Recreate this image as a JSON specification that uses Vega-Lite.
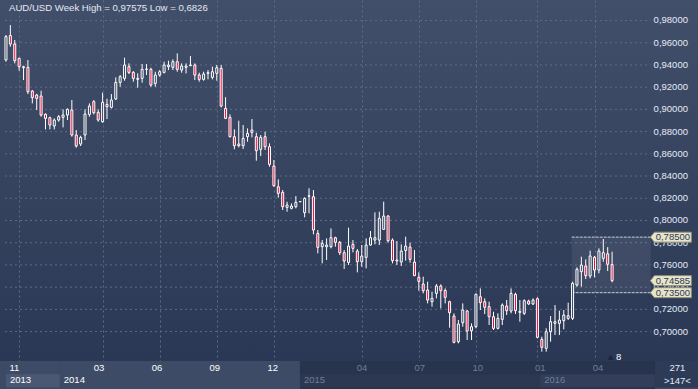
{
  "$schema": "https://vega.github.io/schema/vega-lite/v6.json",
  "background": "#2e3b57",
  "padding": 0,
  "spacing": 0,
  "bounds": "flush",
  "config": {"view": {"stroke": null}, "font": "Liberation Sans"},
  "datasets": {
    "candles": [
      {"i":0,"open":0.9445,"high":0.9669,"low":0.9429,"close":0.9655},
      {"i":1,"open":0.9665,"high":0.9759,"low":0.9564,"close":0.9588},
      {"i":2,"open":0.9588,"high":0.9624,"low":0.9414,"close":0.9438},
      {"i":3,"open":0.9459,"high":0.9465,"low":0.9348,"close":0.9384},
      {"i":4,"open":0.9375,"high":0.9393,"low":0.9264,"close":0.9384},
      {"i":5,"open":0.9378,"high":0.9444,"low":0.9138,"close":0.9159},
      {"i":6,"open":0.9165,"high":0.9174,"low":0.9054,"close":0.9105},
      {"i":7,"open":0.9129,"high":0.914,"low":0.8994,"close":0.9099},
      {"i":8,"open":0.912,"high":0.9168,"low":0.8934,"close":0.8949},
      {"i":9,"open":0.8956,"high":0.8964,"low":0.882,"close":0.8919},
      {"i":10,"open":0.8925,"high":0.8934,"low":0.882,"close":0.8859},
      {"i":11,"open":0.885,"high":0.8919,"low":0.882,"close":0.8904},
      {"i":12,"open":0.8904,"high":0.8949,"low":0.8889,"close":0.8934},
      {"i":13,"open":0.8928,"high":0.9,"low":0.8838,"close":0.8949},
      {"i":14,"open":0.8949,"high":0.9009,"low":0.8904,"close":0.9},
      {"i":15,"open":0.8994,"high":0.9084,"low":0.8754,"close":0.8769},
      {"i":16,"open":0.8769,"high":0.8814,"low":0.8655,"close":0.867},
      {"i":17,"open":0.8688,"high":0.8763,"low":0.867,"close":0.8748},
      {"i":18,"open":0.8769,"high":0.9,"low":0.8724,"close":0.8958},
      {"i":19,"open":0.8955,"high":0.9054,"low":0.8934,"close":0.903},
      {"i":20,"open":0.9069,"high":0.9084,"low":0.8955,"close":0.897},
      {"i":21,"open":0.8973,"high":0.9,"low":0.8889,"close":0.8904},
      {"i":22,"open":0.8889,"high":0.915,"low":0.888,"close":0.9063},
      {"i":23,"open":0.9045,"high":0.9096,"low":0.8913,"close":0.9024},
      {"i":24,"open":0.9018,"high":0.9138,"low":0.9009,"close":0.9084},
      {"i":25,"open":0.9093,"high":0.9288,"low":0.9084,"close":0.9243},
      {"i":26,"open":0.9243,"high":0.9309,"low":0.9204,"close":0.9294},
      {"i":27,"open":0.9279,"high":0.9465,"low":0.9258,"close":0.9399},
      {"i":28,"open":0.9384,"high":0.9414,"low":0.9318,"close":0.9333},
      {"i":29,"open":0.9333,"high":0.9345,"low":0.9249,"close":0.9279},
      {"i":30,"open":0.927,"high":0.9324,"low":0.9195,"close":0.9279},
      {"i":31,"open":0.9279,"high":0.9408,"low":0.924,"close":0.936},
      {"i":32,"open":0.936,"high":0.9408,"low":0.9309,"close":0.9363},
      {"i":33,"open":0.936,"high":0.9375,"low":0.9204,"close":0.9219},
      {"i":34,"open":0.9234,"high":0.9339,"low":0.9204,"close":0.9309},
      {"i":35,"open":0.9309,"high":0.9354,"low":0.9294,"close":0.9339},
      {"i":36,"open":0.9333,"high":0.9429,"low":0.9324,"close":0.9399},
      {"i":37,"open":0.9384,"high":0.9438,"low":0.9354,"close":0.9399},
      {"i":38,"open":0.9378,"high":0.945,"low":0.9354,"close":0.9429},
      {"i":39,"open":0.9429,"high":0.9504,"low":0.9339,"close":0.936},
      {"i":40,"open":0.9354,"high":0.9414,"low":0.933,"close":0.939},
      {"i":41,"open":0.9378,"high":0.9414,"low":0.9324,"close":0.939},
      {"i":42,"open":0.9393,"high":0.948,"low":0.939,"close":0.9399},
      {"i":43,"open":0.9399,"high":0.9414,"low":0.9264,"close":0.9309},
      {"i":44,"open":0.9309,"high":0.933,"low":0.9249,"close":0.927},
      {"i":45,"open":0.927,"high":0.9339,"low":0.9258,"close":0.9318},
      {"i":46,"open":0.9324,"high":0.9354,"low":0.927,"close":0.933},
      {"i":47,"open":0.9288,"high":0.9384,"low":0.927,"close":0.9339},
      {"i":48,"open":0.9324,"high":0.9399,"low":0.9258,"close":0.9375},
      {"i":49,"open":0.9369,"high":0.9399,"low":0.9018,"close":0.903},
      {"i":50,"open":0.9009,"high":0.911,"low":0.8913,"close":0.8919},
      {"i":51,"open":0.8928,"high":0.8955,"low":0.8748,"close":0.8754},
      {"i":52,"open":0.8754,"high":0.882,"low":0.864,"close":0.8673},
      {"i":53,"open":0.8673,"high":0.8898,"low":0.8658,"close":0.8688},
      {"i":54,"open":0.8673,"high":0.8859,"low":0.8643,"close":0.8739},
      {"i":55,"open":0.8754,"high":0.8829,"low":0.8709,"close":0.8784},
      {"i":56,"open":0.8814,"high":0.8913,"low":0.8748,"close":0.8793},
      {"i":57,"open":0.8754,"high":0.879,"low":0.8538,"close":0.8628},
      {"i":58,"open":0.864,"high":0.8769,"low":0.858,"close":0.8748},
      {"i":59,"open":0.8754,"high":0.8799,"low":0.8634,"close":0.8664},
      {"i":60,"open":0.8664,"high":0.8694,"low":0.8484,"close":0.8505},
      {"i":61,"open":0.849,"high":0.8544,"low":0.8304,"close":0.8313},
      {"i":62,"open":0.8304,"high":0.837,"low":0.8205,"close":0.8244},
      {"i":63,"open":0.8253,"high":0.8274,"low":0.8094,"close":0.8124},
      {"i":64,"open":0.8118,"high":0.8169,"low":0.8079,"close":0.8139},
      {"i":65,"open":0.8109,"high":0.8154,"low":0.81,"close":0.813},
      {"i":66,"open":0.8124,"high":0.822,"low":0.8109,"close":0.8163},
      {"i":67,"open":0.8169,"high":0.8172,"low":0.8166,"close":0.817},
      {"i":68,"open":0.807,"high":0.8208,"low":0.8028,"close":0.8199},
      {"i":69,"open":0.8222,"high":0.829,"low":0.8064,"close":0.8218},
      {"i":70,"open":0.8214,"high":0.8274,"low":0.7875,"close":0.7914},
      {"i":71,"open":0.7884,"high":0.7914,"low":0.7704,"close":0.7758},
      {"i":72,"open":0.7764,"high":0.7824,"low":0.7614,"close":0.7794},
      {"i":73,"open":0.7764,"high":0.7839,"low":0.7644,"close":0.7779},
      {"i":74,"open":0.7764,"high":0.7929,"low":0.7749,"close":0.7845},
      {"i":75,"open":0.7845,"high":0.7854,"low":0.7764,"close":0.7803},
      {"i":76,"open":0.7803,"high":0.7815,"low":0.7689,"close":0.771},
      {"i":77,"open":0.771,"high":0.7734,"low":0.7563,"close":0.7635},
      {"i":78,"open":0.7623,"high":0.7935,"low":0.7599,"close":0.777},
      {"i":79,"open":0.7785,"high":0.7824,"low":0.7713,"close":0.7749},
      {"i":80,"open":0.7725,"high":0.7743,"low":0.7533,"close":0.7629},
      {"i":81,"open":0.7629,"high":0.7779,"low":0.7584,"close":0.768},
      {"i":82,"open":0.7668,"high":0.7839,"low":0.7569,"close":0.7779},
      {"i":83,"open":0.7779,"high":0.7905,"low":0.7773,"close":0.7845},
      {"i":84,"open":0.7824,"high":0.8073,"low":0.7785,"close":0.7845},
      {"i":85,"open":0.7824,"high":0.8079,"low":0.7779,"close":0.802},
      {"i":86,"open":0.792,"high":0.8169,"low":0.7914,"close":0.804},
      {"i":87,"open":0.804,"high":0.8049,"low":0.78,"close":0.7818},
      {"i":88,"open":0.7824,"high":0.7839,"low":0.7614,"close":0.7638},
      {"i":89,"open":0.7636,"high":0.7815,"low":0.7599,"close":0.7644},
      {"i":90,"open":0.7626,"high":0.7785,"low":0.759,"close":0.7725},
      {"i":91,"open":0.773,"high":0.7854,"low":0.7638,"close":0.777},
      {"i":92,"open":0.776,"high":0.78,"low":0.762,"close":0.765},
      {"i":93,"open":0.7626,"high":0.7734,"low":0.75,"close":0.7503},
      {"i":94,"open":0.7488,"high":0.7533,"low":0.7368,"close":0.7452},
      {"i":95,"open":0.7428,"high":0.7494,"low":0.7344,"close":0.7368},
      {"i":96,"open":0.7374,"high":0.7449,"low":0.7254,"close":0.7284},
      {"i":97,"open":0.7269,"high":0.7359,"low":0.7224,"close":0.7299},
      {"i":98,"open":0.7344,"high":0.7428,"low":0.7299,"close":0.741},
      {"i":99,"open":0.741,"high":0.7425,"low":0.7209,"close":0.7368},
      {"i":100,"open":0.737,"high":0.7389,"low":0.7254,"close":0.7308},
      {"i":101,"open":0.7269,"high":0.7278,"low":0.7035,"close":0.717},
      {"i":102,"open":0.714,"high":0.7164,"low":0.6894,"close":0.6903},
      {"i":103,"open":0.6909,"high":0.7104,"low":0.6894,"close":0.7068},
      {"i":104,"open":0.708,"high":0.7254,"low":0.7044,"close":0.7194},
      {"i":105,"open":0.7185,"high":0.7194,"low":0.6924,"close":0.7005},
      {"i":106,"open":0.7008,"high":0.7074,"low":0.6924,"close":0.7044},
      {"i":107,"open":0.7044,"high":0.7344,"low":0.7029,"close":0.7335},
      {"i":108,"open":0.7314,"high":0.7389,"low":0.7194,"close":0.726},
      {"i":109,"open":0.7269,"high":0.7299,"low":0.7158,"close":0.7218},
      {"i":110,"open":0.7224,"high":0.7269,"low":0.7059,"close":0.7134},
      {"i":111,"open":0.7134,"high":0.7179,"low":0.7014,"close":0.7029},
      {"i":112,"open":0.7029,"high":0.7164,"low":0.702,"close":0.7119},
      {"i":113,"open":0.711,"high":0.7254,"low":0.7059,"close":0.7239},
      {"i":114,"open":0.723,"high":0.7284,"low":0.7149,"close":0.7188},
      {"i":115,"open":0.7185,"high":0.7389,"low":0.7164,"close":0.7344},
      {"i":116,"open":0.7335,"high":0.735,"low":0.7158,"close":0.7188},
      {"i":117,"open":0.7182,"high":0.7284,"low":0.7089,"close":0.7173},
      {"i":118,"open":0.7164,"high":0.729,"low":0.7149,"close":0.7278},
      {"i":119,"open":0.7275,"high":0.7287,"low":0.724,"close":0.7248},
      {"i":120,"open":0.7248,"high":0.7299,"low":0.7239,"close":0.7284},
      {"i":121,"open":0.7296,"high":0.7308,"low":0.6939,"close":0.6948},
      {"i":122,"open":0.693,"high":0.6954,"low":0.6819,"close":0.6858},
      {"i":123,"open":0.6849,"high":0.7029,"low":0.6819,"close":0.6999},
      {"i":124,"open":0.6999,"high":0.714,"low":0.6909,"close":0.7089},
      {"i":125,"open":0.7074,"high":0.7239,"low":0.6969,"close":0.7089},
      {"i":126,"open":0.7074,"high":0.7188,"low":0.6969,"close":0.7104},
      {"i":127,"open":0.7098,"high":0.7194,"low":0.702,"close":0.7149},
      {"i":128,"open":0.7119,"high":0.726,"low":0.7104,"close":0.7143},
      {"i":129,"open":0.7119,"high":0.7449,"low":0.7104,"close":0.7434},
      {"i":130,"open":0.7419,"high":0.7578,"low":0.7404,"close":0.756},
      {"i":131,"open":0.7539,"high":0.7674,"low":0.7404,"close":0.7599},
      {"i":132,"open":0.759,"high":0.765,"low":0.7473,"close":0.7503},
      {"i":133,"open":0.75,"high":0.7728,"low":0.7479,"close":0.768},
      {"i":134,"open":0.7668,"high":0.768,"low":0.7488,"close":0.7554},
      {"i":135,"open":0.7554,"high":0.7749,"low":0.7524,"close":0.7725},
      {"i":136,"open":0.7659,"high":0.7833,"low":0.7629,"close":0.771},
      {"i":137,"open":0.77,"high":0.776,"low":0.7545,"close":0.7606},
      {"i":138,"open":0.7603,"high":0.7719,"low":0.7443,"close":0.7459}
    ],
    "levels": [
      {"level":0.70,"label":"0,70000"},{"level":0.72,"label":"0,72000"},{"level":0.74,"label":"0,74000"},
      {"level":0.76,"label":"0,76000"},{"level":0.78,"label":"0,78000"},{"level":0.80,"label":"0,80000"},
      {"level":0.82,"label":"0,82000"},{"level":0.84,"label":"0,84000"},{"level":0.86,"label":"0,86000"},
      {"level":0.88,"label":"0,88000"},{"level":0.90,"label":"0,90000"},{"level":0.92,"label":"0,92000"},
      {"level":0.94,"label":"0,94000"},{"level":0.96,"label":"0,96000"},{"level":0.98,"label":"0,98000"}
    ],
    "markers": [
      {"level":0.785,"label":"0,78500"},
      {"level":0.74585,"label":"0,74585"},
      {"level":0.735,"label":"0,73500"}
    ],
    "zone": [{"from":128.8,"hi":0.785,"lo":0.735}],
    "months": [
      {"i":3,"month":"11","year":2013},
      {"i":22,"month":"03","year":2014},
      {"i":35,"month":"06","year":2014},
      {"i":48,"month":"09","year":2014},
      {"i":61,"month":"12","year":2014},
      {"i":81,"month":"04","year":2015},
      {"i":94,"month":"07","year":2015},
      {"i":107,"month":"10","year":2015},
      {"i":121,"month":"01","year":2016},
      {"i":134,"month":"04","year":2016}
    ],
    "years": [
      {"year":2013,"from":1.1,"to":13.2},
      {"year":2014,"from":13.2,"to":67.1},
      {"year":2015,"from":67.1,"to":121},
      {"year":2016,"from":121,"to":146.77}
    ]
  },
  "vconcat": [
    {
      "width": 698,
      "height": 361,
      "view": {"stroke": null, "fill": {"gradient": "linear", "x1": 0, "y1": 0, "x2": 0, "y2": 1, "stops": [{"offset": 0, "color": "#424f6a"}, {"offset": 1, "color": "#2b3855"}]}},
      "layer": [
        {
          "data": {"name": "levels"},
          "mark": {"type": "rule", "color": "#5d6b87", "strokeDash": [2, 3], "strokeWidth": 1},
          "encoding": {
            "y": {"field": "level", "type": "quantitative", "axis": null, "scale": {"domain": [0.67352, 0.99845], "nice": false, "zero": false}},
            "x": {"datum": -0.22},
            "x2": {"datum": 146.77}
          }
        },
        {
          "data": {"name": "levels"},
          "mark": {"type": "text", "align": "left", "baseline": "middle", "dx": 3, "font": "Liberation Sans", "fontSize": 9.5, "color": "#e4ebf6"},
          "encoding": {
            "y": {"field": "level", "type": "quantitative", "axis": null},
            "x": {"datum": 146.77},
            "text": {"field": "label"}
          }
        },
        {
          "data": {"name": "zone"},
          "mark": {"type": "rect", "color": "#ffffff", "opacity": 0.07},
          "encoding": {
            "x": {"field": "from", "type": "quantitative", "title": null},
            "x2": {"datum": 146.77},
            "y": {"field": "hi", "type": "quantitative", "axis": null},
            "y2": {"field": "lo"}
          }
        },
        {
          "data": {"name": "zone"},
          "mark": {"type": "rule", "color": "#c9d1dd", "strokeDash": [3, 1], "strokeWidth": 1},
          "encoding": {
            "x": {"field": "from", "type": "quantitative", "title": null},
            "x2": {"datum": 146.77},
            "y": {"field": "hi", "type": "quantitative", "axis": null}
          }
        },
        {
          "data": {"name": "zone"},
          "mark": {"type": "rule", "color": "#c9d1dd", "strokeDash": [3, 1], "strokeWidth": 1},
          "encoding": {
            "x": {"field": "from", "type": "quantitative", "title": null},
            "x2": {"datum": 146.77},
            "y": {"field": "lo", "type": "quantitative", "axis": null}
          }
        },
        {
          "data": {"name": "candles"},
          "mark": {"type": "rule", "color": "#ffffff", "strokeWidth": 1},
          "encoding": {
            "x": {
              "field": "i", "type": "quantitative", "title": null,
              "scale": {"domain": [-0.22, 156.42], "nice": false, "zero": false},
              "axis": {"values": [3, 22, 35, 48, 61, 81, 94, 107, 121, 134], "grid": true, "gridColor": "#5d6b87", "gridDash": [2, 3], "labels": false, "ticks": false, "domain": true, "domainColor": "#000000", "domainWidth": 1, "title": null, "zindex": 0}
            },
            "y": {"field": "low", "type": "quantitative", "axis": null},
            "y2": {"field": "high"}
          }
        },
        {
          "data": {"name": "candles"},
          "mark": {"type": "bar", "size": 2, "stroke": "#ffffff", "strokeWidth": 1},
          "encoding": {
            "x": {"field": "i", "type": "quantitative", "title": null},
            "y": {"field": "open", "type": "quantitative", "axis": null},
            "y2": {"field": "close"},
            "color": {"condition": {"test": "datum.close < datum.open", "value": "#e60d3c"}, "value": "#37445f"}
          }
        },
        {
          "mark": {"type": "rule", "color": "#000000", "strokeWidth": 1},
          "encoding": {"x": {"datum": 146.77}}
        },
        {
          "data": {"name": "markers"},
          "mark": {"type": "point", "shape": "M-1,0L-0.805,-0.244L1,-0.244L1,0.244L-0.805,0.244Z", "size": 1681, "filled": true, "fill": "#e8e5c9", "stroke": "#8d8c7c", "strokeWidth": 1, "opacity": 1},
          "encoding": {
            "x": {"datum": 151.38},
            "y": {"field": "level", "type": "quantitative", "axis": null}
          }
        },
        {
          "data": {"name": "markers"},
          "mark": {"type": "text", "align": "center", "baseline": "middle", "dx": 2, "font": "Liberation Sans", "fontSize": 9.5, "color": "#2c3856"},
          "encoding": {
            "x": {"datum": 151.38},
            "y": {"field": "level", "type": "quantitative", "axis": null},
            "text": {"field": "label"}
          }
        },
        {
          "data": {"values": [{"caption": "AUD/USD Week High = 0,97575 Low = 0,6826"}]},
          "mark": {"type": "text", "align": "left", "baseline": "middle", "dx": 4, "font": "Liberation Sans", "fontSize": 9.6, "color": "#e2e9f4"},
          "encoding": {
            "x": {"datum": -0.22},
            "y": {"datum": 0.9913},
            "text": {"field": "caption"}
          }
        },
        {
          "data": {"values": [{"shift": "8"}]},
          "mark": {"type": "text", "align": "left", "baseline": "middle", "font": "Liberation Sans", "fontSize": 9.5, "color": "#ffffff"},
          "encoding": {
            "x": {"datum": 138.9},
            "y": {"datum": 0.6775},
            "text": {"field": "shift"}
          }
        },
        {
          "data": {"values": [{"arrow": "▲"}]},
          "mark": {"type": "text", "align": "center", "baseline": "middle", "font": "DejaVu Sans", "fontSize": 7, "color": "#1c2438"},
          "encoding": {
            "x": {"datum": 137.7},
            "y": {"datum": 0.6772},
            "text": {"field": "arrow"}
          }
        }
      ]
    },
    {
      "width": 698,
      "height": 28,
      "view": {"stroke": null, "fill": "#3d4a65"},
      "layer": [
        {
          "data": {"name": "years"},
          "mark": {"type": "rect"},
          "encoding": {
            "x": {"field": "from", "type": "quantitative", "axis": null, "scale": {"domain": [-0.22, 156.42], "nice": false, "zero": false}},
            "x2": {"field": "to"},
            "y": {"datum": 2, "scale": {"domain": [0, 2], "nice": false, "zero": false}, "axis": null},
            "y2": {"datum": 0},
            "color": {"condition": {"test": "datum.year >= 2015", "value": "#28334d"}, "value": "#3e4b66"}
          }
        },
        {
          "data": {"name": "years"},
          "mark": {"type": "rect"},
          "encoding": {
            "x": {"field": "from", "type": "quantitative", "axis": null},
            "x2": {"field": "to"},
            "y": {"datum": 1.05, "axis": null},
            "y2": {"datum": 0.12},
            "color": {"condition": [{"test": "datum.year == 2013", "value": "#4b5874"}, {"test": "datum.year == 2016", "value": "#323e5a"}, {"test": "datum.year == 2015", "value": "#2c3752"}], "value": "#3e4b66"}
          }
        },
        {
          "data": {"name": "months"},
          "mark": {"type": "text", "align": "center", "baseline": "middle", "font": "Liberation Sans", "fontSize": 9.5},
          "encoding": {
            "x": {"field": "i", "type": "quantitative", "axis": null},
            "y": {"datum": 1.48, "axis": null},
            "text": {"field": "month"},
            "color": {"condition": {"test": "datum.year >= 2015", "value": "#6f7e99"}, "value": "#ffffff"}
          }
        },
        {
          "data": {"name": "years"},
          "mark": {"type": "text", "align": "left", "baseline": "middle", "dx": 4, "font": "Liberation Sans", "fontSize": 9.5},
          "encoding": {
            "x": {"field": "from", "type": "quantitative", "axis": null},
            "y": {"datum": 0.62, "axis": null},
            "text": {"field": "year", "type": "nominal"},
            "color": {"condition": {"test": "datum.year >= 2015", "value": "#6f7e99"}, "value": "#ffffff"}
          }
        },
        {
          "data": {"values": [{"label": "271", "row": 1.5}, {"label": ">147<", "row": 0.6}]},
          "mark": {"type": "rect", "color": "#2e3b57"},
          "encoding": {
            "x": {"datum": 146.77, "axis": null},
            "x2": {"datum": 156.42},
            "y": {"datum": 2, "axis": null},
            "y2": {"datum": 0.12}
          }
        },
        {
          "data": {"values": [{"label": "271", "row": 1.5}, {"label": ">147<", "row": 0.6}]},
          "mark": {"type": "text", "align": "center", "baseline": "middle", "font": "Liberation Sans", "fontSize": 9.5, "color": "#e2e9f4"},
          "encoding": {
            "x": {"datum": 151.8, "axis": null},
            "y": {"field": "row", "type": "quantitative", "axis": null},
            "text": {"field": "label"}
          }
        },
        {
          "mark": {"type": "rule", "color": "#5a6580", "strokeWidth": 1},
          "encoding": {
            "x": {"datum": 149.6, "axis": null},
            "x2": {"datum": 154.1},
            "y": {"datum": 1.1, "axis": null}
          }
        },
        {
          "mark": {"type": "rule", "color": "#000000", "strokeWidth": 1},
          "encoding": {"x": {"datum": 146.77, "axis": null}}
        },
        {
          "mark": {"type": "rule", "color": "#a3acbb", "strokeWidth": 2},
          "encoding": {
            "x": {"datum": -0.22, "axis": null},
            "x2": {"datum": 156.42},
            "y": {"datum": 0.05, "axis": null}
          }
        }
      ]
    }
  ]
}
